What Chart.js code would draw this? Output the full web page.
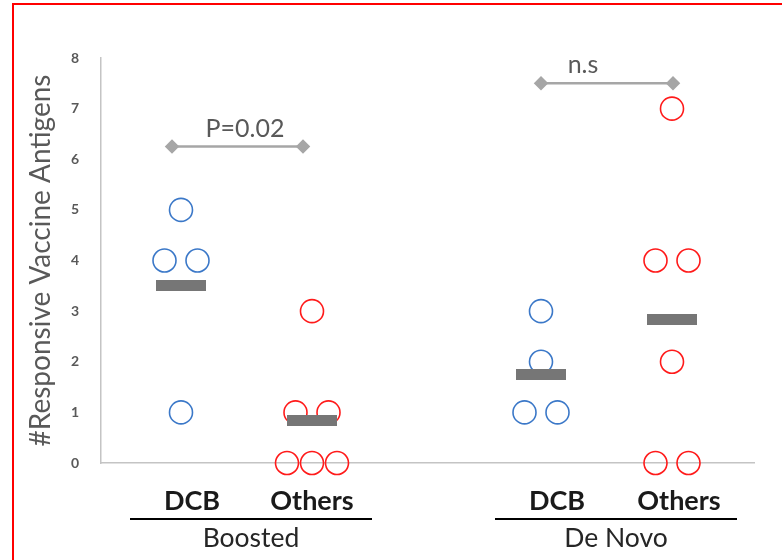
<!DOCTYPE html>
<html><head><meta charset="utf-8">
<script src="https://cdn.jsdelivr.net/npm/chart.js@4.4.1/dist/chart.umd.min.js"></script>
<style>
html,body{margin:0;padding:0;background:#fff;overflow:hidden}
#wrap{position:relative;width:782px;height:560px;overflow:hidden}
#frame{position:absolute;left:12px;top:3px;width:820px;height:620px;border:2px solid #ff0000;box-sizing:border-box;pointer-events:none}
canvas{position:absolute;left:0;top:0}
</style></head><body>
<div id="wrap"><canvas id="c" width="782" height="560"></canvas><div id="frame"></div></div>
<script>
// ---- data ----
const categories = ['DCB', 'Others', 'DCB', 'Others'];
const groups = ['Boosted', 'De Novo'];
const boostedDCB = [5, 4, 4, 1];
const boostedOthers = [3, 1, 1, 0, 0, 0];
const deNovoDCB = [3, 2, 1, 1];
const deNovoOthers = [7, 4, 4, 2, 0, 0];
const means = [3.5, 0.83, 1.75, 2.83];
const yTicks = [0, 1, 2, 3, 4, 5, 6, 7, 8];
const pLabels = ['P=0.02', 'n.s'];
const pLevels = [6.25, 7.5];

// ---- layout (x in px units from plot left) ----
const catX = [80, 211, 440, 571];
const labelX = [91, 211, 456, 578];
const groupLine = [[29, 271], [394, 636]];
const bracketX = [[71, 202], [440, 572]];
const pTextX = [144, 482];
const BLUE = '#3b78c8', RED = '#ff1a1a';

function jitter(vals, cx) {
  const offs = {1: [0], 2: [-16.5, 16.5], 3: [-25, 0, 25]};
  const counts = {}, seen = {};
  vals.forEach(v => counts[v] = (counts[v] || 0) + 1);
  return vals.map(v => {
    const i = seen[v] || 0; seen[v] = i + 1;
    return {x: cx + offs[counts[v]][i], y: v};
  });
}

const barImg = document.createElement('canvas');
barImg.width = 50; barImg.height = 11;
(function(){const g = barImg.getContext('2d'); g.fillStyle = '#767676'; g.fillRect(0, 0, 50, 11);})();

function pointDs(vals, cx, color) {
  return {type: 'scatter', data: jitter(vals, cx), order: 1, clip: false,
    pointStyle: 'circle', pointRadius: 11.5, pointHoverRadius: 11.5,
    borderColor: color, backgroundColor: 'rgba(0,0,0,0)', pointBorderWidth: 1.6, borderWidth: 1.6, showLine: false};
}
function bracketDs(i) {
  return {type: 'line', data: [{x: bracketX[i][0], y: pLevels[i]}, {x: bracketX[i][1], y: pLevels[i]}],
    order: 2, clip: false, borderColor: '#a6a6a6', borderWidth: 2.5, pointStyle: 'rectRot',
    pointRadius: 5.5, pointBackgroundColor: '#a6a6a6', pointBorderColor: '#a6a6a6', fill: false};
}

const labelsPlugin = {
  id: 'labels',
  afterDraw(chart) {
    const ctx = chart.ctx, xs = chart.scales.x, ys = chart.scales.y, bottom = chart.chartArea.bottom;
    ctx.save();
    ctx.textAlign = 'center'; ctx.textBaseline = 'middle';
    ctx.fillStyle = '#1a1a1a';
    ctx.font = 'bold 27px Lato';
    categories.forEach((c, i) => ctx.fillText(c, xs.getPixelForValue(labelX[i]), bottom + 38));
    ctx.strokeStyle = '#000'; ctx.lineWidth = 2;
    groupLine.forEach(([a, b]) => {
      ctx.beginPath(); ctx.moveTo(xs.getPixelForValue(a), bottom + 56); ctx.lineTo(xs.getPixelForValue(b), bottom + 56); ctx.stroke();
    });
    ctx.font = '26.5px Lato'; ctx.fillStyle = '#262626';
    groups.forEach((g, i) => ctx.fillText(g, xs.getPixelForValue((groupLine[i][0] + groupLine[i][1]) / 2), bottom + 75));
    ctx.font = '25px Lato'; ctx.fillStyle = '#595959';
    pLabels.forEach((t, i) => ctx.fillText(t, xs.getPixelForValue(pTextX[i]), ys.getPixelForValue(pLevels[i]) - 18));
    ctx.restore();
  }
};

Chart.defaults.font.family = 'Lato';
new Chart(document.getElementById('c'), {
  type: 'scatter',
  data: {datasets: [
    {type: 'scatter', data: means.map((m, i) => ({x: catX[i], y: m})), order: 0, clip: false,
      pointStyle: barImg, pointRadius: 1, pointHoverRadius: 1},
    pointDs(boostedDCB, catX[0], BLUE),
    pointDs(boostedOthers, catX[1], RED),
    pointDs(deNovoDCB, catX[2], BLUE),
    pointDs(deNovoOthers, catX[3], RED),
    bracketDs(0), bracketDs(1)
  ]},
  options: {
    responsive: false, animation: false, events: [],
    layout: {padding: {left: 0, right: 28, top: 58, bottom: 89}},
    plugins: {legend: {display: false}, tooltip: {enabled: false}},
    scales: {
      x: {type: 'linear', min: 0, max: 653, grid: {display: false}, ticks: {display: false},
        border: {display: true, color: '#c4c4c4', width: 1.5}},
      y: {min: 0, max: 8, grid: {display: false, drawTicks: false},
        border: {display: true, color: '#c4c4c4', width: 1.5},
        afterBuildTicks: s => { s.ticks = yTicks.map(v => ({value: v})); },
        afterFit: s => { s.width = 101; },
        ticks: {padding: 22, color: '#595959', font: {size: 14, weight: 'bold'}},
        title: {display: true, text: '#Responsive Vaccine Antigens', color: '#595959',
          font: {size: 28}, padding: {top: 24, bottom: 0}}}
    }
  },
  plugins: [labelsPlugin]
});
</script>
</body></html>
